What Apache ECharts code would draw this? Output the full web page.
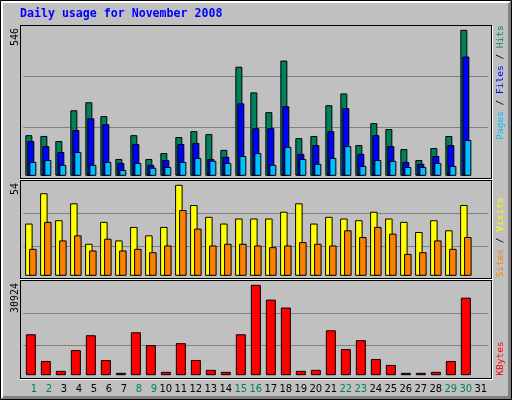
<!DOCTYPE html>
<html>
<head>
<meta charset="utf-8">
<script src="https://cdn.jsdelivr.net/npm/echarts@6/dist/echarts.min.js"></script>
<style>
html,body{margin:0;padding:0;background:#c0c0c0;}
#main{width:512px;height:400px;}
</style>
</head>
<body>
<div id="main"></div>
<script>
// daily usage, november 2008
let days = [1,2,3,4,5,6,7,8,9,10,11,12,13,14,15,16,17,18,19,20,21,22,23,24,25,26,27,28,29,30,31];
let weekends = [1,2,8,9,15,16,22,23,29,30];
let hits   = [152,149,130,245,275,223,63,152,63,85,145,167,156,97,408,312,238,431,141,149,264,308,115,197,175,100,59,104,149,546,0];
let files  = [130,111,89,171,215,193,48,119,41,59,119,123,63,71,271,178,178,260,82,115,167,253,82,152,111,52,45,74,115,446,0];
let pages  = [52,59,41,89,41,52,22,48,30,33,52,67,56,48,74,85,41,108,63,45,67,111,37,59,56,33,33,48,37,134,0];
let visits = [31,49,33,43,19,32,21,29,24,29,54,42,35,31,34,34,34,38,43,31,35,34,33,38,34,32,26,33,27,42,0];
let sites  = [16,32,21,24,15,22,15,16,14,18,39,28,18,19,19,18,17,18,20,19,18,27,23,29,25,13,14,21,16,23,0];
let kbytes = [14000,4870,1490,8590,13670,5210,810,14680,10280,1150,10960,5210,1830,1150,14000,30924,25850,23140,1490,1830,15360,8930,11980,5550,3520,810,810,1150,4870,26520,0];

const HIT = '#00805c', FILE = '#0000ff', PAGE = '#00c0ff';
const VISIT = '#ffff00', SITE = '#ff8000', KB = '#ff0000';

// panel boxes (top, bottom of black frame) and plot area
let panels = [
    {top:25,  bottom:178, h:153,  padTop:4.8, padBot:2.2, max:Math.max(...hits)},
    {top:180, bottom:278, h:99,   padTop:4.8, padBot:3.2, max:Math.max(...visits)},
    {top:280, bottom:378, h:98.5, padTop:4.8, padBot:3.3, max:Math.max(...kbytes)}
];

function yRange(p){
    let k = p.max / (p.h - p.padTop - p.padBot);
    let min = -p.padBot * k;
    let max = p.max + p.padTop * k;
    return {min:min, max:max, interval:(max - min) / 3};
}

let noZero = arr => arr.map(v => v || '-');

let chart = echarts.init(document.getElementById('main'));

let grids = [], xAxes = [], yAxes = [];
panels.forEach((p, i) => {
    grids.push({left:23.35, top:p.top, width:465, height:p.h});
    let r = yRange(p);
    xAxes.push({
        type:'category', gridIndex:i, data:days,
        axisLine:{show:false}, axisTick:{show:false},
        splitLine:{show:false},
        axisLabel: i == 2 ? {
            interval:0, margin:6,
            formatter: v => {
                let t = v < 10 ? '\u2007' + v : '' + v;
                return weekends.indexOf(+v) >= 0 ? '{we|' + t + '}' : '{wd|' + t + '}';
            },
            rich:{
                we:{color:HIT, fontFamily:'DejaVu Sans', fontSize:10},
                wd:{color:'#000', fontFamily:'DejaVu Sans', fontSize:10}
            }
        } : {show:false}
    });
    yAxes.push({
        type:'value', gridIndex:i, min:r.min, max:r.max, interval:r.interval,
        axisLine:{show:false}, axisTick:{show:false}, axisLabel:{show:false},
        splitLine:{show:true, showMinLine:false, showMaxLine:false, lineStyle:{color:'#808080', width:1}}
    });
});

function bar(name, data, color, idx, width, gap){
    return {
        name:name, type:'bar', xAxisIndex:idx, yAxisIndex:idx,
        data:noZero(data), barWidth:width, barGap:gap, silent:true,
        itemStyle:{color:color, borderColor:'#000', borderWidth:1}
    };
}

// frame pieces
let g = [];
g.push({type:'polygon', z:100, shape:{points:[[1,1],[511,1],[508,3],[3,3],[3,397],[1,399]]}, style:{fill:'#ffffff'}});
g.push({type:'polygon', z:100, shape:{points:[[511,1],[511,399],[1,399],[4,396],[508,396],[508,4]]}, style:{fill:'#808080'}});
g.push({type:'rect', z:101, shape:{x:0.5, y:0.5, width:511, height:399}, style:{fill:null, stroke:'#000', lineWidth:1}});

let ln = (x1, y1, x2, y2, c) => ({type:'line', z:102, shape:{x1:x1, y1:y1, x2:x2, y2:y2}, style:{stroke:c, lineWidth:1}});
panels.forEach(p => {
    g.push(ln(20, p.top + 0.5, 492, p.top + 0.5, '#000'));
    g.push(ln(20.5, p.top, 20.5, p.bottom + 1, '#000'));
    g.push(ln(20, p.bottom + 0.5, 492, p.bottom + 0.5, '#000'));
    g.push(ln(491.5, p.top, 491.5, p.bottom + 1, '#000'));
    g.push(ln(20, p.bottom + 1.5, 493, p.bottom + 1.5, '#fff'));
    g.push(ln(492.5, p.top + 1, 492.5, p.bottom + 2, '#fff'));
});

// max value labels on the left
panels.forEach(p => {
    g.push({type:'text', z:103, x:15.5, y:p.top + 3, rotation:Math.PI / 2,
        style:{text:String(p.max), fill:'#000', fontFamily:'DejaVu Sans Mono', fontSize:10,
            align:'right', verticalAlign:'middle'}});
});

// legends on the right
let mono = {fontFamily:'DejaVu Sans Mono', fontSize:9.5};
let legends = [
    {y:82.5,  text:'{p|Pages}{s| / }{f|Files}{s| / }{h|Hits}'},
    {y:237.5, text:'{si|Sites}{s| / }{v|Visits}'},
    {y:358.5, text:'{k|KBytes}'}
];
legends.forEach(l => {
    g.push({type:'text', z:103, x:501, y:l.y, rotation:Math.PI / 2,
        style:Object.assign({text:l.text, fill:'#000', align:'center', verticalAlign:'middle',
            rich:{
                p:Object.assign({fill:PAGE}, mono), f:Object.assign({fill:FILE}, mono),
                h:Object.assign({fill:HIT}, mono), s:Object.assign({fill:'#000'}, mono),
                si:Object.assign({fill:SITE}, mono), v:Object.assign({fill:VISIT}, mono),
                k:Object.assign({fill:KB}, mono)
            }}, mono)});
});

let option = {
    backgroundColor:'#c0c0c0',
    animation:false,
    title:{
        text:'Daily usage for November 2008', left:20, top:8, padding:0,
        textStyle:{color:'#0000ff', fontFamily:'DejaVu Sans Mono', fontWeight:'bold', fontSize:11.6}
    },
    grid:grids,
    xAxis:xAxes,
    yAxis:yAxes,
    graphic:g,
    series:[
        bar('Hits', hits, HIT, 0, 7, '-71.4%'),
        bar('Files', files, FILE, 0, 7, '-71.4%'),
        bar('Pages', pages, PAGE, 0, 7, '-71.4%'),
        bar('Visits', visits, VISIT, 1, 7.5, '-46.7%'),
        bar('Sites', sites, SITE, 1, 7.5, '-46.7%'),
        bar('KBytes', kbytes, KB, 2, 10, '0%')
    ]
};
chart.setOption(option);
</script>
</body>
</html>
